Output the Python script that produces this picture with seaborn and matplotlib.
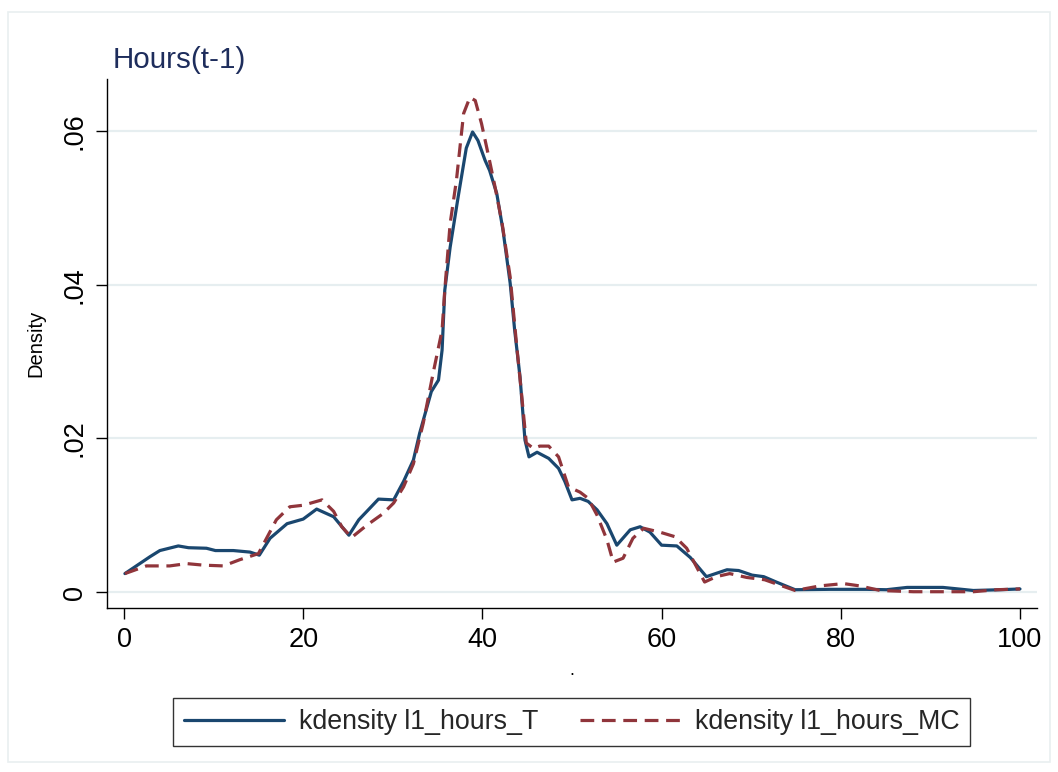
import numpy as np
import pandas as pd
import matplotlib
matplotlib.use("Agg")
import matplotlib.pyplot as plt
from matplotlib import font_manager as fm
import seaborn as sns
from matplotlib.patches import Rectangle
from matplotlib.lines import Line2D

# ---- data ----
t_x = [0.1, 2.9, 4.0, 6.06, 7.2, 9.2, 10.2, 12.2, 14.06, 15.1, 16.3, 18.2, 20.0, 21.5,
       23.4, 25.1, 26.2, 27.1, 28.4, 30.1, 31.2, 32.3, 33.0, 34.3, 35.1, 35.5, 35.8, 36.4,
       37.3, 38.2, 38.9, 39.5, 40.3, 40.8, 41.6, 42.3, 43.1, 43.6, 44.2, 44.75, 45.2, 46.1,
       47.4, 48.5, 49.2, 50.0, 50.9, 51.8, 52.8, 53.9, 55.0, 56.5, 57.6, 58.7, 60.0, 61.7,
       63.2, 65.0, 67.3, 68.6, 70.1, 71.4, 72.8, 74.9, 78.8, 82.9, 85.1, 87.4, 91.4, 94.8,
       97.8, 100.0]
t_y = [0.0024, 0.0046, 0.0054, 0.0060, 0.00577, 0.0057, 0.0054, 0.0054, 0.0052, 0.0048,
       0.0070, 0.0089, 0.0095, 0.0108, 0.0098, 0.0074, 0.0094, 0.0105, 0.0121, 0.0120,
       0.0144, 0.0172, 0.0207, 0.0261, 0.0276, 0.0315, 0.0393, 0.0449, 0.0515, 0.0578,
       0.0599, 0.0588, 0.0562, 0.0549, 0.0519, 0.0471, 0.0402, 0.0341, 0.0280, 0.0198,
       0.0176, 0.0182, 0.0174, 0.0161, 0.0144, 0.0120, 0.0122, 0.0118, 0.0107, 0.0089,
       0.0061, 0.0081, 0.0085, 0.0078, 0.0061, 0.0060, 0.0045, 0.0020, 0.0029, 0.0028,
       0.0022, 0.0020, 0.0013, 0.0003, 0.00035, 0.00035, 0.0003, 0.0006, 0.0006, 0.0002,
       0.0003, 0.0004]

mc_x = [0.1, 2.5, 5.1, 7.0, 8.85, 11.1, 12.9, 15.0, 17.0, 18.5, 20.0, 22.1, 23.4, 24.3,
        25.4, 27.1, 28.9, 30.1, 31.2, 32.3, 33.4, 34.5, 35.5, 35.8, 36.4, 37.1, 37.9, 38.6,
        39.2, 39.9, 40.7, 41.4, 42.2, 43.1, 43.8, 44.4, 44.9, 45.7, 46.4, 47.4, 48.5, 49.6,
        50.9, 51.8, 52.8, 53.9, 54.6, 55.7, 56.8, 58.0, 59.8, 61.5, 62.8, 64.8, 66.1, 67.6,
        69.5, 71.5, 73.2, 74.9, 77.7, 80.3, 82.1, 84.4, 88.1, 92.9, 94.8, 97.4, 100.0]
mc_y = [0.0024, 0.0034, 0.0034, 0.0037, 0.0035, 0.0034, 0.0042, 0.0050, 0.0094, 0.0111,
        0.0113, 0.0120, 0.0105, 0.0085, 0.0071, 0.0087, 0.0102, 0.0116, 0.0137, 0.0167,
        0.0220, 0.0285, 0.0341, 0.0393, 0.0480, 0.0536, 0.0623, 0.0644, 0.0640, 0.0610,
        0.0567, 0.0528, 0.0480, 0.0410, 0.0324, 0.0254, 0.0194, 0.0187, 0.0190, 0.0190,
        0.0176, 0.0137, 0.0130, 0.0122, 0.0100, 0.0068, 0.0039, 0.0044, 0.0070, 0.0083,
        0.0078, 0.0072, 0.0057, 0.0013, 0.0020, 0.0024, 0.0019, 0.0016, 0.0009, 0.0002,
        0.0008, 0.0011, 0.0008, 0.0002, 0.00004, 0.00004, 0.00004, 0.0003, 0.0004]

series_names = ["kdensity l1_hours_T", "kdensity l1_hours_MC"]
x_ticks = [0, 20, 40, 60, 80, 100]
y_ticks = [0, 0.02, 0.04, 0.06]
y_tick_labels = ["0", ".02", ".04", ".06"]
title_text = "Hours(t-1)"

df = pd.concat([
    pd.DataFrame({"x": t_x, "y": t_y, "series": series_names[0]}),
    pd.DataFrame({"x": mc_x, "y": mc_y, "series": series_names[1]}),
], ignore_index=True)

# ---- styling ----
sns.set_theme(style="white")
plt.rcParams["font.family"] = ["Liberation Sans", "DejaVu Sans"]

installed = {f.name for f in fm.fontManager.ttflist}
if "Liberation Sans Narrow" in installed:
    leg_family, leg_size = ["Liberation Sans Narrow", "Liberation Sans"], 22.5
else:
    leg_family, leg_size = ["Liberation Sans", "DejaVu Sans"], 19.3

BLUE = "#1a476f"
RED = "#90353b"
GRID = "#e6eef0"

W, H = 1058, 772
fig = plt.figure(figsize=(W / 100, H / 100), dpi=100)
fig.patch.set_facecolor("white")
fig.add_artist(Rectangle((8 / W, 1 - 762 / H), (1050 - 8) / W, (762 - 12) / H,
                         transform=fig.transFigure, fill=False,
                         edgecolor="#e9eff0", lw=1.2))

ax = fig.add_axes([107 / W, 1 - 608 / H, (1037 - 107) / W, (608 - 79) / H])
ax.set_facecolor("white")

palette = {series_names[0]: BLUE, series_names[1]: RED}
dashes = {series_names[0]: "", series_names[1]: (4.3, 2.4)}
sns.lineplot(data=df, x="x", y="y", hue="series", style="series",
             palette=palette, dashes=dashes, lw=2.3, ax=ax, legend=False,
             estimator=None, sort=False)

ax.set_xlim(-1.9, 101.9)
ax.set_ylim(-0.00208, 0.0668)
ax.set_xticks(x_ticks)
ax.set_xticklabels([str(v) for v in x_ticks])
ax.set_yticks(y_ticks)
ax.set_yticklabels(y_tick_labels, rotation=90, va="center")

for v in y_ticks:
    ax.axhline(v, color=GRID, lw=1.6, zorder=0)

for s in ["top", "right"]:
    ax.spines[s].set_visible(False)
for s in ["left", "bottom"]:
    ax.spines[s].set_color("black")
    ax.spines[s].set_linewidth(1.0)

ax.tick_params(axis="both", which="major", direction="out", length=8, width=1.0,
               color="black", labelsize=19.5, labelcolor="black", bottom=True, left=True)
ax.tick_params(axis="x", pad=6)
ax.tick_params(axis="y", pad=6)

ax.set_ylabel("Density", fontsize=14.5, color="black")
ax.yaxis.set_label_coords((45 - 107) / 930, 0.5)
ax.set_xlabel(".", fontsize=13, color="black", labelpad=6)

fig.text(113 / W, 1 - 68 / H, title_text, fontsize=21.3, color="#1e2d5c",
         ha="left", va="baseline")

handles = [Line2D([], [], color=BLUE, lw=2.3),
           Line2D([], [], color=RED, lw=2.3, dashes=(4.3, 2.4))]
fs_px = leg_size * 100 / 72
leg = fig.legend(handles, series_names, loc="center",
                 bbox_to_anchor=(571.5 / W, 1 - 722 / H),
                 ncol=2, frameon=True, fancybox=False,
                 edgecolor="black", prop={"family": leg_family, "size": leg_size},
                 handlelength=100 / fs_px, handletextpad=15 / fs_px,
                 columnspacing=42 / fs_px, borderpad=0.4,
                 borderaxespad=0)
leg.get_frame().set_linewidth(1.0)

fig.savefig("out.png", dpi=100, facecolor="white")
